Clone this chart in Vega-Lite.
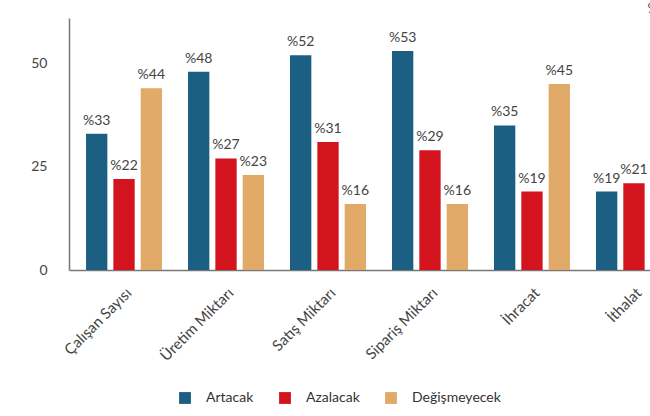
{
  "$schema": "https://vega.github.io/schema/vega-lite/v6.json",
  "autosize": {"type": "none"},
  "padding": {"left": 69, "top": 18, "right": 0, "bottom": 146},
  "width": 620,
  "height": 252,
  "background": "white",
  "config": {
    "font": "Lato",
    "view": {"stroke": null}
  },
  "data": {
    "values": [
      {"kategori": "Çalışan Sayısı", "durum": "Artacak", "deger": 33},
      {"kategori": "Çalışan Sayısı", "durum": "Azalacak", "deger": 22},
      {"kategori": "Çalışan Sayısı", "durum": "Değişmeyecek", "deger": 44},
      {"kategori": "Üretim Miktarı", "durum": "Artacak", "deger": 48},
      {"kategori": "Üretim Miktarı", "durum": "Azalacak", "deger": 27},
      {"kategori": "Üretim Miktarı", "durum": "Değişmeyecek", "deger": 23},
      {"kategori": "Satış Miktarı", "durum": "Artacak", "deger": 52},
      {"kategori": "Satış Miktarı", "durum": "Azalacak", "deger": 31},
      {"kategori": "Satış Miktarı", "durum": "Değişmeyecek", "deger": 16},
      {"kategori": "Sipariş Miktarı", "durum": "Artacak", "deger": 53},
      {"kategori": "Sipariş Miktarı", "durum": "Azalacak", "deger": 29},
      {"kategori": "Sipariş Miktarı", "durum": "Değişmeyecek", "deger": 16},
      {"kategori": "İhracat", "durum": "Artacak", "deger": 35},
      {"kategori": "İhracat", "durum": "Azalacak", "deger": 19},
      {"kategori": "İhracat", "durum": "Değişmeyecek", "deger": 45},
      {"kategori": "İthalat", "durum": "Artacak", "deger": 19},
      {"kategori": "İthalat", "durum": "Azalacak", "deger": 21},
      {"kategori": "İthalat", "durum": "Değişmeyecek", "deger": 60}
    ]
  },
  "encoding": {
    "x": {
      "field": "kategori",
      "type": "nominal",
      "sort": ["Çalışan Sayısı", "Üretim Miktarı", "Satış Miktarı", "Sipariş Miktarı", "İhracat", "İthalat"],
      "scale": {"paddingInner": 0.255, "paddingOuter": 0.167},
      "axis": {
        "title": null,
        "labelAngle": -45,
        "labelFontSize": 15,
        "labelColor": "#444",
        "labelPadding": 15,
        "ticks": false,
        "domainColor": "#777",
        "domainWidth": 1.5
      }
    },
    "xOffset": {
      "field": "durum",
      "type": "nominal",
      "sort": ["Artacak", "Azalacak", "Değişmeyecek"],
      "scale": {"paddingInner": 0.22}
    },
    "y": {
      "field": "deger",
      "type": "quantitative",
      "scale": {"domain": [0, 61], "nice": false},
      "axis": {
        "title": null,
        "values": [0, 25, 50],
        "grid": false,
        "ticks": false,
        "labelPadding": 22,
        "labelFontSize": 14,
        "labelColor": "#444",
        "domainColor": "#777",
        "domainWidth": 1.5
      }
    }
  },
  "layer": [
    {
      "mark": {"type": "bar"},
      "encoding": {
        "color": {
          "field": "durum",
          "type": "nominal",
          "sort": ["Artacak", "Azalacak", "Değişmeyecek"],
          "scale": {
            "domain": ["Artacak", "Azalacak", "Değişmeyecek"],
            "range": ["#1b5f82", "#d3141f", "#e1aa68"]
          },
          "legend": {
            "title": null,
            "orient": "none",
            "direction": "horizontal",
            "legendX": 109,
            "legendY": 373,
            "symbolType": "square",
            "symbolSize": 140,
            "symbolStrokeWidth": 0,
            "labelFontSize": 14,
            "labelColor": "#333",
            "columnPadding": 24,
            "labelOffset": 14
          }
        }
      }
    },
    {
      "mark": {"type": "text", "baseline": "alphabetic", "dy": -9, "fontSize": 14, "color": "#444", "text": {"expr": "'%' + datum.deger"}}
    }
  ]
}
